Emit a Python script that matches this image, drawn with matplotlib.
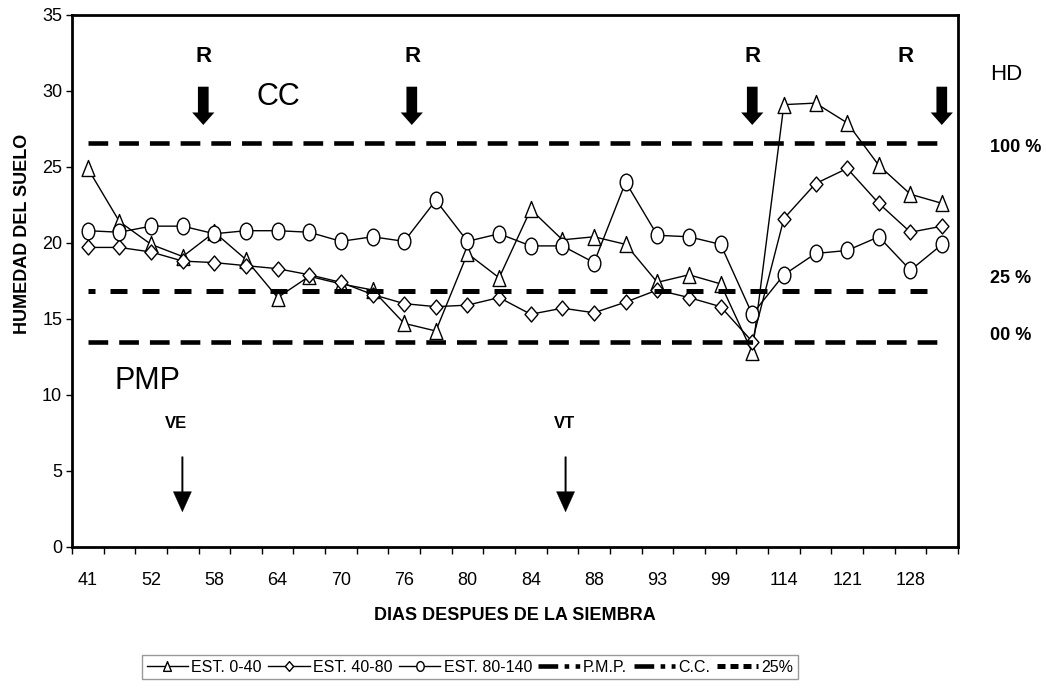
import numpy as np
import matplotlib
matplotlib.use("Agg")
import matplotlib.pyplot as plt
from matplotlib.path import Path
from matplotlib.lines import Line2D

plt.rcParams['font.family'] = ['Liberation Sans', 'DejaVu Sans']

# dias despues de la siembra (labels shown every other category)
dias = [41, 52, 58, 64, 70, 76, 80, 84, 88, 93, 99, 114, 121, 128]

# soil moisture per depth
est_0_40 = [24.9, 21.4, 19.9, 19.1, 20.7, 18.9, 16.4, 17.8, 17.3, 16.9,
            14.7, 14.2, 19.3, 17.7, 22.2, 20.2, 20.4, 19.9, 17.4, 17.9,
            17.3, 12.8, 29.1, 29.2, 27.9, 25.1, 23.2, 22.6]
est_40_80 = [19.7, 19.7, 19.4, 18.8, 18.7, 18.5, 18.3, 17.9, 17.4, 16.6,
             16.0, 15.8, 15.9, 16.4, 15.3, 15.7, 15.4, 16.1, 16.9, 16.4,
             15.8, 13.5, 21.6, 23.9, 24.9, 22.6, 20.7, 21.1]
est_80_140 = [20.8, 20.7, 21.1, 21.1, 20.6, 20.8, 20.8, 20.7, 20.1, 20.4,
              20.1, 22.8, 20.1, 20.6, 19.8, 19.8, 18.7, 24.0, 20.5, 20.4,
              19.9, 15.3, 17.9, 19.3, 19.5, 20.4, 18.2, 19.9]

pmp = 13.5
cc = 26.6
p25 = 16.8

n = len(est_0_40)
x = np.arange(n)

# excel-like markers (a bit taller than wide)
tri = Path([(0, 0.5), (-0.4, -0.5), (0.4, -0.5), (0, 0.5)],
           [Path.MOVETO, Path.LINETO, Path.LINETO, Path.CLOSEPOLY])
dia = Path([(0, 0.5), (0.43, 0), (0, -0.5), (-0.43, 0), (0, 0.5)],
           [Path.MOVETO, Path.LINETO, Path.LINETO, Path.LINETO, Path.CLOSEPOLY])
circ = Path.unit_circle()
ell = Path(circ.vertices * [0.76, 1.0], circ.codes)

fig = plt.figure(figsize=(10.46, 6.88), dpi=100)
ax = fig.add_axes([0.0688, 0.2054, 0.847, 0.7728])

common = dict(color='black', lw=1.0, mfc='white', mec='black', mew=1.0)
ax.plot(x, est_0_40, marker=tri, ms=11.5, **common)
ax.plot(x, est_40_80, marker=dia, ms=10.8, **common)
ax.plot(x, est_80_140, marker=ell, ms=12, **common)

ax.plot(x, [pmp] * n, color='black', lw=3.3, ls=(0, (4.3, 2.4)))
ax.plot(x, [cc] * n, color='black', lw=3.3, ls=(0, (4.3, 2.4)))
ax.plot(x, [p25] * n, color='black', lw=3.6, ls=(2.0, (3.4, 3.0)))

ax.set_xlim(-0.5, n - 0.5)
ax.set_ylim(0, 35)
ax.set_yticks(range(0, 36, 5))

# ticks between categories, labels on every other category
ax.set_xticks(np.arange(-0.5, n, 1.0))
ax.set_xticklabels([])
ax.set_xticks(x[::2], minor=True)
ax.set_xticklabels([str(d) for d in dias], minor=True)
ax.tick_params(axis='x', which='major', direction='out', length=5, width=1)
ax.tick_params(axis='x', which='minor', length=0, pad=18, labelsize=13)
ax.tick_params(axis='y', direction='out', length=4, width=1, pad=3, labelsize=13)
for s in ax.spines.values():
    s.set_linewidth(2)

ax.set_xlabel('DIAS DESPUES DE LA SIEMBRA', fontsize=13, fontweight='bold', labelpad=13)
fig.text(22.5 / 1046, 1 - 233.5 / 688, 'HUMEDAD DEL SUELO', rotation=90,
         ha='center', va='center', fontsize=13, fontweight='bold')

# riegos
for xr, xa in zip([3.67, 10.25, 21.02, 25.83], [3.65, 10.24, 21.0, 26.99]):
    ax.text(xr, 32.26, 'R', ha='center', va='center', fontsize=16, fontweight='bold')
    ax.annotate('', xy=(xa, 27.76), xytext=(xa, 30.28),
                arrowprops=dict(arrowstyle='simple,head_width=1.6,head_length=0.9,tail_width=0.77',
                                mutation_scale=10, fc='black', ec='black', lw=0,
                                shrinkA=0, shrinkB=0))

ax.text(6.01, 29.6, 'CC', ha='center', va='center', fontsize=22)
ax.text(1.87, 10.9, 'PMP', ha='center', va='center', fontsize=22)

# fases
for xt, xa, lab in zip([2.79, 15.08], [2.99, 15.1], ['VE', 'VT']):
    ax.text(xt, 8.14, lab, ha='center', va='center', fontsize=12, fontweight='bold')
    ax.annotate('', xy=(xa, 2.3), xytext=(xa, 5.92),
                arrowprops=dict(arrowstyle='simple,head_width=1.3,head_length=1.44,tail_width=0.1',
                                mutation_scale=10, fc='black', ec='black', lw=0.3,
                                shrinkA=0, shrinkB=0))

fig.text(990 / 1046, 1 - 75 / 688, 'HD', ha='left', va='center', fontsize=16)
fig.text(990 / 1046, 1 - 148 / 688, '100 %', ha='left', va='center', fontsize=13, fontweight='bold')
fig.text(990 / 1046, 1 - 278 / 688, '25 %', ha='left', va='center', fontsize=13, fontweight='bold')
fig.text(990 / 1046, 1 - 335 / 688, '00 %', ha='left', va='center', fontsize=13, fontweight='bold')

handles = [
    Line2D([], [], marker=tri, ms=7, **common),
    Line2D([], [], marker=dia, ms=7, **common),
    Line2D([], [], marker=ell, ms=7, **common),
    Line2D([], [], color='black', lw=3.3, ls=(0, (4.3, 1.4, 1, 1.4, 1, 1.4))),
    Line2D([], [], color='black', lw=3.3, ls=(0, (4.3, 1.4, 1, 1.4, 1, 1.4))),
    Line2D([], [], color='black', lw=3.6, ls=(0, (1.6, 1.0))),
]
labels = ['EST. 0-40', 'EST. 40-80', 'EST. 80-140', 'P.M.P.', 'C.C.', '25%']
leg = fig.legend(handles, labels, loc='center', bbox_to_anchor=(470 / 1046, 1 - 667 / 688),
                 ncol=6, fontsize=11.5, frameon=True, fancybox=False, edgecolor='#808080',
                 handlelength=2.6, handletextpad=0.2, columnspacing=0.4, borderpad=0.3)
leg.get_frame().set_linewidth(1.0)

fig.savefig('out.png', dpi=100)
